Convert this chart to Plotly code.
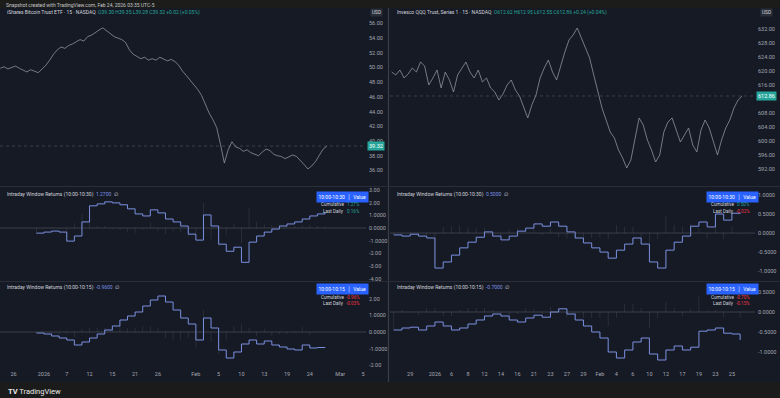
import plotly.graph_objects as go

W, H = 780, 398

# ---------------- data ----------------
top_text = "Snapshot created with TradingView.com, Feb 24, 2026 03:35 UTC-5"
left_title = "iShares Bitcoin Trust ETF · 15 · NASDAQ"
left_ohlc = "O39.30 H39.35 L39.28 C39.32 +0.02 (+0.05%)"
right_title = "Invesco QQQ Trust, Series 1 · 15 · NASDAQ"
right_ohlc = "O612.62 H612.95 L612.55 C612.86 +0.24 (+0.04%)"

price_step = 0.5          # trading days between price samples
left_price_start = -2.75  # trading-day index of first sample
right_price_start = -2.25

left_price = [
    49.9, 50.1, 49.8, 50.0, 50.2, 49.9,
    49.6, 49.4, 49.7, 49.5, 49.3, 49.8,
    50.3, 51.0, 51.8, 52.4, 52.8, 52.6,
    53.0, 53.2, 53.5, 53.8, 53.6, 54.2,
    54.4, 54.8, 55.1, 55.4, 55.0, 54.7,
    54.2, 54.0, 53.8, 53.4, 52.4, 51.8,
    51.5, 51.2, 51.4, 51.0, 51.2, 51.0,
    51.4, 51.2, 50.9, 51.1, 50.8, 50.3,
    49.5, 48.9, 48.3, 47.6, 47.0, 46.2,
    44.9, 43.8, 42.9, 41.8, 39.5, 37.0,
    38.8, 39.9, 39.2, 39.0, 38.6, 38.8,
    38.4, 38.2, 38.0, 38.5, 38.9, 38.7,
    38.2, 38.0, 37.9, 37.6, 37.8, 38.1,
    37.9, 37.4, 36.8, 36.2, 36.6, 37.2,
    38.0, 38.9, 39.32,
]

right_price = [
    619.71, 618.86, 620.29, 618.00, 619.14, 620.86, 619.71, 622.57, 621.43, 616.00,
    618.00, 620.29, 615.14, 619.71, 617.43, 614.00, 618.86, 620.86, 622.57, 619.71,
    618.00, 620.29, 616.86, 618.00, 615.14, 614.00, 611.71, 613.43, 616.00, 617.43,
    614.57, 612.86, 609.43, 606.57, 610.29, 613.14, 618.00, 620.86, 623.14, 619.71,
    617.43, 621.71, 625.43, 628.86, 630.29, 632.29, 629.43, 626.57, 623.71, 618.86,
    614.00, 609.43, 606.00, 602.57, 600.86, 597.43, 595.14, 592.29, 594.57, 600.29,
    606.57, 604.57, 600.29, 597.43, 594.00, 596.00, 602.57, 605.43, 606.57, 603.14,
    599.71, 601.71, 603.71, 598.86, 596.86, 603.14, 606.00, 603.71, 599.71, 596.00,
    600.29, 603.71, 606.00, 609.43, 611.71, 612.86,
]

left_ind_start = 2     # trading-day index of first daily value
right_ind_start = -2

left_ret_a = [-0.40, -0.32, -0.24, -0.32, -1.03, -0.63, 0.48, 1.75, 1.90, 2.06,
              1.98, 1.83, 1.51, 1.11, 0.95, 1.43, 1.19, 0.71, 0.48, 0.16,
              -0.48, -0.95, 1.03, 0.16, -1.27, -1.83, -1.51, -2.70, -1.11, -0.63,
              -0.32, -0.08, 0.16, 0.32, 0.48, 0.71, 0.95, 1.11, 1.27]
left_ret_b = [-0.06, -0.12, -0.24, -0.36, -0.48, -0.78, -0.60, -0.36, -0.12, 0.12,
              0.36, 0.72, 0.96, 1.20, 1.56, 1.92, 2.16, 1.80, 1.32, 0.84,
              0.48, -0.48, 0.84, 0.24, -1.08, -1.56, -1.20, -0.72, -0.48, -0.72,
              -0.54, -0.78, -0.90, -1.02, -1.08, -0.78, -0.96, -0.93, -0.96]
right_ret_a = [-0.05, -0.08, -0.03, -0.08, -0.13, -0.92, -0.76, -0.58, -0.39, -0.24,
               -0.11, 0.03, -0.08, -0.18, -0.08, 0.05, 0.13, 0.24, 0.18, 0.29,
               0.18, 0.03, -0.13, -0.26, -0.39, -0.50, -0.66, -0.45, -0.29, -0.13,
               -0.29, -0.76, -0.92, -0.45, -0.24, -0.08, 0.18, 0.29, 0.16, 0.50,
               0.34, 0.52, 0.50]
right_ret_b = [-0.45, -0.40, -0.38, -0.45, -0.35, -0.25, -0.35, -0.45, -0.40, -0.30,
               -0.20, -0.10, -0.05, -0.10, -0.20, -0.25, -0.15, -0.08, -0.13, 0.00,
               0.08, -0.05, -0.20, -0.35, -0.50, -0.65, -1.00, -1.15, -0.95, -0.75,
               -0.65, -1.05, -1.20, -0.95, -0.85, -0.95, -0.88, -0.48, -0.45, -0.40,
               -0.53, -0.55, -0.70]

win_a = "10:00-10:30"
win_b = "10:00-10:15"

left_xtick_idx = [-1, 3, 6, 9, 12, 15, 18, 23, 26, 29, 32, 35, 38, 42, 45]
left_xtick_lbl = ["26", "2026", "7", "12", "15", "21", "26", "Feb", "5", "10", "13", "19", "24", "Mar", "5"]
right_xtick_idx = [0, 3, 5, 7, 9, 11, 13, 15, 17, 19, 21, 23, 25, 27, 29, 31, 33, 35, 37, 39]
right_xtick_lbl = ["29", "2026", "6", "8", "12", "14", "16", "21", "23", "27", "29", "Feb",
                   "4", "6", "10", "12", "17", "19", "23", "25"]

left_ptick = [36, 38, 40, 42, 44, 46, 48, 50, 52, 54, 56]
right_ptick = [592, 596, 600, 604, 608, 616, 620, 624, 628, 632]
left_a_tick = [-4, -3, -2, -1, 0, 1, 2, 3]
left_a_lbl = ["-4.00", "-3.00", "-2.00", "-1.0000", "0.0000", "1.0000", "2.00", "3.00"]
left_b_tick = [-2, -1, 0, 1, 2]
left_b_lbl = ["-2.00", "-1.0000", "0.0000", "1.0000", "2.00"]
right_a_tick = [-1, -0.5, 0, 0.5, 1]
right_a_lbl = ["-1.0000", "-0.5000", "0.0000", "0.5000", "1.0000"]
right_b_tick = [-1, -0.5, 0, 0.5]
right_b_lbl = ["-1.0000", "-0.5000", "0.0000", "0.5000"]

# ---------------- style ----------------
BG = "#161a25"
TXT = "#a3a6af"
GREEN = "#26a69a"
RED = "#f23645"
LINE = "#7a90e0"
SEP = "#2a2e39"
FONT = "Roboto"


def px_x(p):
    return p / W


def px_y(p):
    return 1 - p / H


def xdom(a, b):
    return [a / W, b / W]


def ydom(top, bot):
    return [1 - bot / H, 1 - top / H]


cols = {"L": (0, 366), "R": (390, 755)}
panes = {"p": (9, 186), "a": (187, 281), "b": (282, 369)}

fig = go.Figure()

left_px = [left_price_start + i * price_step for i in range(len(left_price))]
right_px = [right_price_start + i * price_step for i in range(len(right_price))]
left_ix = [left_ind_start + i for i in range(len(left_ret_a))]
right_ix = [right_ind_start + i for i in range(len(right_ret_a))]


def diffs(v):
    return [v[0]] + [v[i] - v[i - 1] for i in range(1, len(v))]


# price lines
fig.add_trace(go.Scatter(x=left_px, y=left_price, mode="lines",
                         line=dict(color="#8f929b", width=0.8), xaxis="x", yaxis="y"))
fig.add_trace(go.Scatter(x=right_px, y=right_price, mode="lines",
                         line=dict(color="#8f929b", width=0.8), xaxis="x4", yaxis="y4"))

# indicators
for xs, vals, xa, ya in [(left_ix, left_ret_a, "x2", "y2"), (left_ix, left_ret_b, "x3", "y3"),
                         (right_ix, right_ret_a, "x5", "y5"), (right_ix, right_ret_b, "x6", "y6")]:
    fig.add_trace(go.Bar(x=xs, y=diffs(vals), width=0.1,
                         marker=dict(color="rgba(120,123,134,0.25)", line=dict(width=0)),
                         xaxis=xa, yaxis=ya))
    fig.add_trace(go.Scatter(x=xs, y=vals, mode="lines", line_shape="hv",
                             line=dict(color=LINE, width=1), xaxis=xa, yaxis=ya))

axfont = dict(family=FONT, size=5.5, color=TXT)
common_x = dict(showgrid=False, zeroline=False, showline=False, ticks="", fixedrange=True)
common_y = dict(showgrid=False, zeroline=False, showline=False, ticks="", side="right",
                tickfont=axfont, fixedrange=True, ticklabelstandoff=2)

layout = dict(
    width=W, height=H, margin=dict(l=0, r=0, t=0, b=0),
    paper_bgcolor=BG, plot_bgcolor=BG, showlegend=False,
    font=dict(family=FONT, color=TXT),
)

lrange = [-2.79, 45.4]
rrange = [-2.45, 41.8]

layout["xaxis"] = dict(common_x, domain=xdom(*cols["L"]), range=lrange, anchor="y", showticklabels=False)
layout["xaxis2"] = dict(common_x, domain=xdom(*cols["L"]), range=lrange, anchor="y2", showticklabels=False)
layout["xaxis3"] = dict(common_x, domain=xdom(*cols["L"]), range=lrange, anchor="y3",
                        tickvals=left_xtick_idx, ticktext=left_xtick_lbl, tickfont=axfont)
layout["xaxis4"] = dict(common_x, domain=xdom(*cols["R"]), range=rrange, anchor="y4", showticklabels=False)
layout["xaxis5"] = dict(common_x, domain=xdom(*cols["R"]), range=rrange, anchor="y5", showticklabels=False)
layout["xaxis6"] = dict(common_x, domain=xdom(*cols["R"]), range=rrange, anchor="y6",
                        tickvals=right_xtick_idx, ticktext=right_xtick_lbl, tickfont=axfont)

layout["yaxis"] = dict(common_y, domain=ydom(*panes["p"]), range=[33.88, 57.96], anchor="x",
                       tickvals=left_ptick, tickformat=".2f")
layout["yaxis2"] = dict(common_y, domain=ydom(*panes["a"]), range=[-4.17, 3.23], anchor="x2",
                        tickvals=left_a_tick, ticktext=left_a_lbl)
layout["yaxis3"] = dict(common_y, domain=ydom(*panes["b"]), range=[-2.22, 3.0], anchor="x3",
                        tickvals=left_b_tick, ticktext=left_b_lbl)
layout["yaxis4"] = dict(common_y, domain=ydom(*panes["p"]), range=[587.14, 637.71], anchor="x4",
                        tickvals=right_ptick, tickformat=".2f")
layout["yaxis5"] = dict(common_y, domain=ydom(*panes["a"]), range=[-1.26, 1.21], anchor="x5",
                        tickvals=right_a_tick, ticktext=right_a_lbl)
layout["yaxis6"] = dict(common_y, domain=ydom(*panes["b"]), range=[-1.425, 0.75], anchor="x6",
                        tickvals=right_b_tick, ticktext=right_b_lbl)
fig.update_layout(**layout)

shapes = []
# top and bottom bars
shapes.append(dict(type="rect", xref="paper", yref="paper", x0=0, x1=1, y0=px_y(8), y1=1,
                   fillcolor="#1c1d1b", line=dict(width=0), layer="below"))
shapes.append(dict(type="rect", xref="paper", yref="paper", x0=0, x1=1, y0=0, y1=px_y(382),
                   fillcolor="#1b1b1b", line=dict(width=0), layer="below"))
# column divider
shapes.append(dict(type="line", xref="paper", yref="paper", x0=px_x(388.5), x1=px_x(388.5),
                   y0=px_y(382), y1=px_y(8), line=dict(color="#3a3e49", width=1.2)))
# pane separators
for c in cols.values():
    for yy in (186.5, 281.5):
        shapes.append(dict(type="line", xref="paper", yref="paper", x0=px_x(c[0]), x1=px_x(c[1] + 25),
                           y0=px_y(yy), y1=px_y(yy), line=dict(color=SEP, width=1)))
# zero lines
for xa, ya in [("x2", "y2"), ("x3", "y3"), ("x5", "y5"), ("x6", "y6")]:
    shapes.append(dict(type="line", xref=xa + " domain", yref=ya, x0=0, x1=1, y0=0, y1=0,
                       line=dict(color="rgba(120,123,134,0.55)", width=0.7)))
# last price lines
shapes.append(dict(type="line", xref="x domain", yref="y", x0=0, x1=1, y0=left_price[-1], y1=left_price[-1],
                   line=dict(color="rgba(120,123,134,0.55)", width=0.7, dash="dot")))
shapes.append(dict(type="line", xref="x4 domain", yref="y4", x0=0, x1=1, y0=right_price[-1], y1=right_price[-1],
                   line=dict(color="rgba(120,123,134,0.55)", width=0.7, dash="dot")))

ann = []


def txt(x, y, text, size=5, color="#d1d4dc", xanchor="left", **kw):
    ann.append(dict(xref="paper", yref="paper", x=px_x(x), y=px_y(y), text=text, showarrow=False,
                    xanchor=xanchor, yanchor="middle", font=dict(family=FONT, size=size, color=color), **kw))


txt(4, 4.5, top_text, size=5, color="#c4c6cc")
txt(5, 13, f"{left_title}  <span style='color:{GREEN}'>{left_ohlc}</span>", size=5)
txt(395, 13, f"{right_title}  <span style='color:{GREEN}'>{right_ohlc}</span>", size=5)
txt(376, 13, "USD", size=4.8, xanchor="center", bgcolor="#2a2e39", borderpad=1)
txt(766, 13, "USD", size=4.8, xanchor="center", bgcolor="#2a2e39", borderpad=1)

# last price badges
ann.append(dict(xref="paper", yref="y", x=px_x(367), y=left_price[-1], text=f"{left_price[-1]:.2f}",
                showarrow=False, xanchor="left", yanchor="middle", bgcolor=GREEN, borderpad=1,
                font=dict(family=FONT, size=5.5, color="white")))
ann.append(dict(xref="paper", yref="y4", x=px_x(756), y=right_price[-1], text=f"{right_price[-1]:.2f}",
                showarrow=False, xanchor="left", yanchor="middle", bgcolor=GREEN, borderpad=1,
                font=dict(family=FONT, size=5.5, color="white")))

# indicator titles and tables
for (x0, ytitle, vals, win, tx) in [
    (5, 195, left_ret_a, win_a, 342), (5, 287, left_ret_b, win_b, 342),
    (395, 195, right_ret_a, win_a, 732), (395, 287, right_ret_b, win_b, 732)]:
    last = vals[-1]
    daily = vals[-1] - vals[-2]
    txt(x0, ytitle, f"Intraday Window Returns ({win})  <span style='color:{LINE}'>{last:.4f}</span>  ∅",
        size=5)
    ty = ytitle + 2
    txt(tx, ty, f"{win}  │  Value", size=5, color="white", xanchor="center", bgcolor="#2962ff", borderpad=1.5)
    txt(tx - 9, ty + 8, "Cumulative", size=4.6, color="#d1d4dc", xanchor="center")
    txt(tx + 11, ty + 8, f"{last:.2f}%", size=4.6, color=GREEN if last >= 0 else RED, xanchor="center")
    txt(tx - 9, ty + 14, "Last Daily", size=4.6, color="#d1d4dc", xanchor="center")
    txt(tx + 11, ty + 14, f"{daily:.2f}%", size=4.6, color=GREEN if daily >= 0 else RED, xanchor="center")

txt(6, 391, "<b>TV</b> TradingView", size=7.5, color="#e8e8e8")

fig.update_layout(shapes=shapes, annotations=ann)
fig.write_html("out.html", config={"displayModeBar": False, "staticPlot": True})
